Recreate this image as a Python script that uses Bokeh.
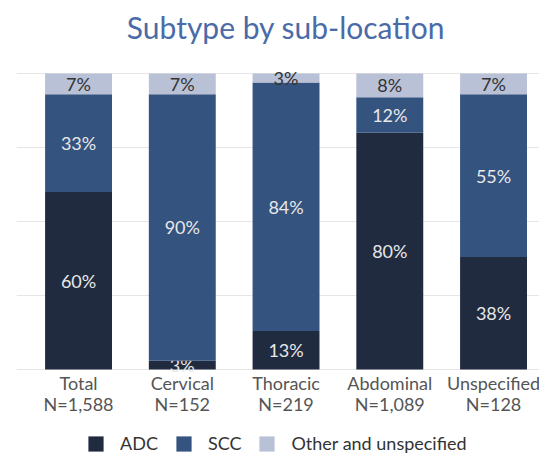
from bokeh.plotting import figure
from bokeh.models import ColumnDataSource, Range1d, FixedTicker, Legend, LegendItem
from bokeh.embed import file_html
from bokeh.resources import INLINE
from bokeh.core.properties import value

title_text = "Subtype by sub-location"
categories = ["Total", "Cervical", "Thoracic", "Abdominal", "Unspecified"]
n_labels = ["N=1,588", "N=152", "N=219", "N=1,089", "N=128"]
adc = [60, 3, 13, 80, 38]
scc = [33, 90, 84, 12, 55]
other = [7, 7, 3, 8, 7]
series_names = ["ADC", "SCC", "Other and unspecified"]
colors = ["#212b40", "#34537f", "#b9c1d6"]
text_colors = ["#e8e8e8", "#e8e8e8", "#333333"]
grid_ticks = [0, 25, 50, 75, 100]

FONT = "Lato"

# frame covers the whole canvas height so that title, category labels and
# legend can be placed relative to the 0 and 100 levels
p = figure(width=539, height=455, output_backend="svg", toolbar_location=None,
           x_range=Range1d(-0.598, 4.443), y_range=Range1d(-29.05, 124.66),
           x_axis_location=None, y_axis_location=None,
           min_border_left=16, min_border_right=0, min_border_top=0, min_border_bottom=0)
p.outline_line_color = None

xs = list(range(len(categories)))
series = [adc, scc, other]
bottoms = [0] * len(categories)
renderers = []
for name, vals, col, tcol in zip(series_names, series, colors, text_colors):
    tops = [b + v for b, v in zip(bottoms, vals)]
    mids = [(b + t) / 2 for b, t in zip(bottoms, tops)]
    src = ColumnDataSource(dict(x=xs, bottom=bottoms, top=tops, mid=mids,
                                lab=[f"{v}%" for v in vals]))
    r = p.vbar(x="x", bottom="bottom", top="top", width=0.645, source=src,
               fill_color=col, line_color=None)
    renderers.append((name, r))
    p.text(x="x", y="mid", text="lab", source=src, text_align="center",
           text_baseline="middle", text_font=value(FONT), text_font_size="18px",
           text_color=tcol)
    bottoms = tops

p.ygrid.ticker = FixedTicker(ticks=grid_ticks)
p.ygrid.grid_line_color = "#e6e6e6"
p.xgrid.visible = False

# category labels under the bars (two lines)
base = [grid_ticks[0]] * len(categories)
cat_src = ColumnDataSource(dict(x=xs, y=base, cat=categories, n=n_labels))
p.text(x="x", y="y", text="cat", source=cat_src, y_offset=13,
       text_align="center", text_baseline="middle", text_font=value(FONT),
       text_font_size="18px", text_color="#555555")
p.text(x="x", y="y", text="n", source=cat_src, y_offset=34,
       text_align="center", text_baseline="middle", text_font=value(FONT),
       text_font_size="18px", text_color="#555555")

# title centred over the bars
title_src = ColumnDataSource(dict(x=[(len(categories) - 1) / 2], y=[grid_ticks[-1]],
                                  t=[title_text]))
p.text(x="x", y="y", text="t", source=title_src, y_offset=-46,
       text_align="center", text_baseline="middle", text_font=value(FONT),
       text_font_size="30px", text_color="#4a6ba8")

legend = Legend(items=[LegendItem(label=n, renderers=[r]) for n, r in renderers],
                orientation="horizontal", location=(70, 1),
                label_text_font=FONT, label_text_font_size="18px",
                label_text_color="#333333", glyph_width=19, glyph_height=19,
                spacing=16, label_standoff=15, border_line_color=None,
                background_fill_alpha=0, padding=0, margin=0)
p.add_layout(legend, "center")

open("out.html", "w").write(file_html(p, INLINE))
